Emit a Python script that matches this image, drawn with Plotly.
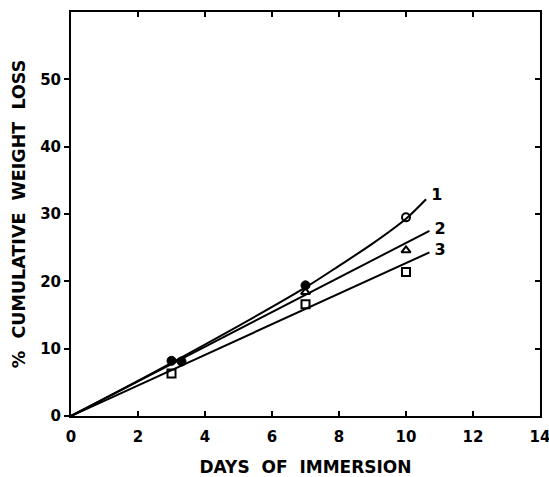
import plotly.graph_objects as go

# measured points
days_obs = [3, 7, 10]
s1_obs = [8.2, 19.4, 29.5]
s2_obs = [7.9, 18.4, 24.6]
s3_obs = [6.3, 16.6, 21.4]
extra_x = [3.3]
extra_y = [8.1]

# fitted curves
c1_x = [0, 3, 7, 8, 9, 10, 10.6]
c1_y = [0, 7.9, 19.1, 22.3, 25.6, 29.3, 32.2]
c2_x = [0, 10.7]
c2_y = [0, 27.5]
c3_x = [0, 10.7]
c3_y = [0, 24.3]
labels = ["1", "2", "3"]
label_x = [10.75, 10.85, 10.85]
label_y = [32.7, 27.6, 24.5]
x_ticks = [0, 2, 4, 6, 8, 10, 12, 14]
y_ticks = [0, 10, 20, 30, 40, 50]

fig = go.Figure()
ln = dict(color="black", width=2)
fig.add_trace(go.Scatter(x=c1_x, y=c1_y, mode="lines", line=dict(shape="spline", smoothing=0.8, **ln)))
fig.add_trace(go.Scatter(x=c2_x, y=c2_y, mode="lines", line=ln))
fig.add_trace(go.Scatter(x=c3_x, y=c3_y, mode="lines", line=ln))

filled = dict(color="black", size=9, line=dict(color="black", width=1))
fig.add_trace(go.Scatter(x=days_obs[:2], y=s1_obs[:2], mode="markers",
                         marker=dict(symbol="circle", **filled)))
fig.add_trace(go.Scatter(x=extra_x, y=extra_y, mode="markers",
                         marker=dict(symbol="circle", **filled)))
fig.add_trace(go.Scatter(x=days_obs[2:], y=s1_obs[2:], mode="markers",
                         marker=dict(symbol="circle-open", color="black", size=8, line=dict(width=2))))
fig.add_trace(go.Scatter(x=days_obs[1:], y=s2_obs[1:], mode="markers",
                         marker=dict(symbol="triangle-up-open", color="black", size=8, line=dict(width=2))))
fig.add_trace(go.Scatter(x=days_obs, y=s3_obs, mode="markers",
                         marker=dict(symbol="square-open", color="black", size=8, line=dict(width=2))))
fig.add_trace(go.Scatter(x=label_x, y=label_y, mode="text", text=labels,
                         textposition="middle right",
                         textfont=dict(family="DejaVu Sans", size=16, color="black", weight="bold")))
# invisible trace on right axis so it renders
fig.add_trace(go.Scatter(x=[0], y=[0], yaxis="y2", mode="markers",
                         marker=dict(opacity=0), hoverinfo="skip"))

axfont = dict(family="DejaVu Sans", size=15, color="black", weight="bold")
titlefont = dict(family="DejaVu Sans", size=17, color="black", weight="bold")
fig.update_layout(
    width=549, height=477,
    margin=dict(l=71, r=9, t=12, b=61),
    paper_bgcolor="white", plot_bgcolor="white",
    showlegend=False,
    xaxis=dict(range=[0, 14], tickvals=x_ticks,
               ticks="inside", ticklen=5, tickwidth=2, tickcolor="black",
               showline=True, linecolor="black", linewidth=2, mirror="ticks",
               showgrid=False, zeroline=False, tickfont=axfont, automargin=False,
               ticklabelstandoff=6, ticklabeloverflow="allow",
               title=dict(text="DAYS  OF  IMMERSION", font=titlefont, standoff=16)),
    yaxis=dict(range=[0, 60], tickvals=y_ticks,
               ticks="outside", ticklen=5, tickwidth=2, tickcolor="black",
               showline=True, linecolor="black", linewidth=2, mirror=True,
               showgrid=False, zeroline=False, tickfont=axfont, automargin=False,
               ticklabeloverflow="allow",
               title=dict(text="%  CUMULATIVE  WEIGHT  LOSS", font=dict(family="DejaVu Sans", size=17.5, color="black", weight="bold"), standoff=10)),
    yaxis2=dict(range=[0, 60], tickvals=y_ticks, overlaying="y", side="right",
                ticks="inside", ticklen=5, tickwidth=2, tickcolor="black",
                showticklabels=False, showgrid=False, zeroline=False, showline=False),
)
fig.write_html("out.html", config={"displayModeBar": False},
               post_script="document.body.style.margin='0';document.body.style.overflow='hidden';")
